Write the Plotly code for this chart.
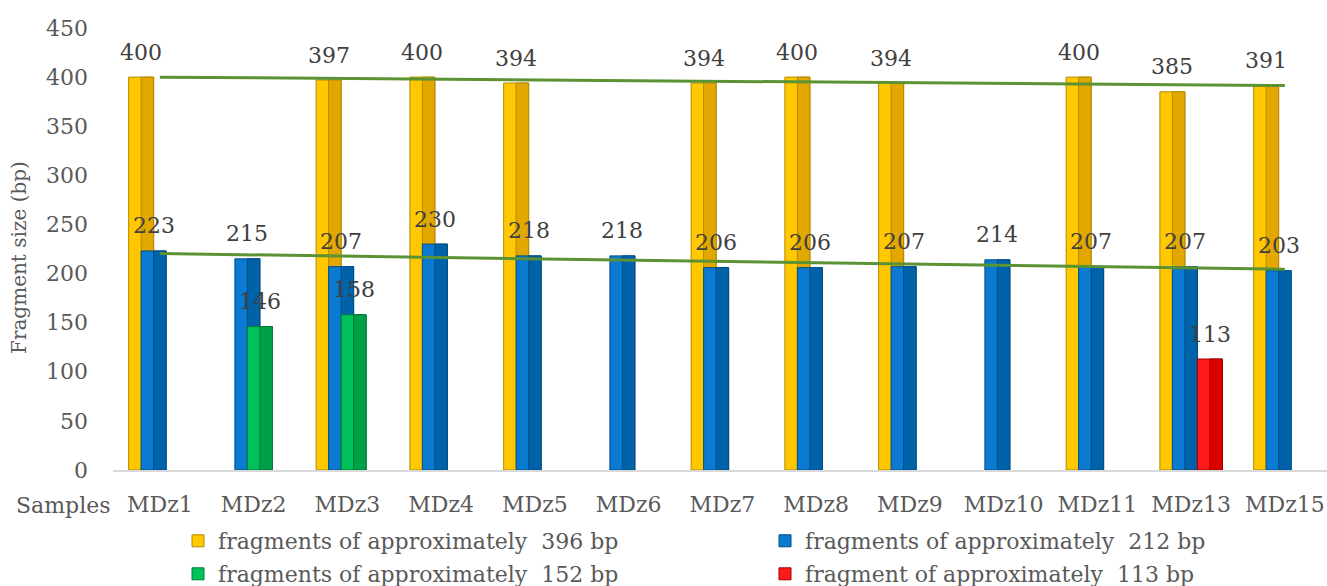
import numpy as np
import plotly.graph_objects as go

categories = ["MDz1", "MDz2", "MDz3", "MDz4", "MDz5", "MDz6", "MDz7",
              "MDz8", "MDz9", "MDz10", "MDz11", "MDz13", "MDz15"]
frag_396 = [400, None, 397, 400, 394, None, 394, 400, 394, None, 400, 385, 391]
frag_212 = [223, 215, 207, 230, 218, 218, 206, 206, 207, 214, 207, 207, 203]
frag_152 = [None, 146, 158, None, None, None, None, None, None, None, None, None, None]
frag_113 = [None, None, None, None, None, None, None, None, None, None, None, 113, None]
y_ticks = [0, 50, 100, 150, 200, 250, 300, 350, 400, 450]

names = ["fragments of approximately  396 bp",
         "fragments of approximately  212 bp",
         "fragments of approximately  152 bp",
         "fragment of approximately  113 bp"]

W, H = 1327, 586
L = 113
T = 28
B = H - 470
R = 0
pw = W - L - R
ph = H - T - B
cat_px = 93.75
bar_w = 25 / cat_px
step = 12.5 / cat_px
start = -31.25 / cat_px
strip_frac = 0.5


def px_x(sx):
    return (sx - L) / pw


def px_y(sy):
    return (H - B - sy) / ph


FONT = "DejaVu Serif"
TXT = "#404040"
AX = "#595959"
FS = 22

series = [
    (frag_396, "#FFC800", "#E3A800", "#B58900"),
    (frag_212, "#0A7BD0", "#0062A8", "#004E86"),
    (frag_152, "#00C25A", "#00A048", "#007A35"),
    (frag_113, "#FF1A1A", "#DD0000", "#A00000"),
]
legend_ids = ["legend", "legend2", "legend3", "legend4"]
legend_pos = [(178, 541), (765, 541), (178, 574), (765, 574)]

fig = go.Figure()
annotations = []
for i, (vals, light, dark, edge) in enumerate(series):
    off = start + i * step
    fig.add_trace(go.Bar(
        x=categories, y=vals, name=names[i],
        width=bar_w, offset=off,
        marker=dict(color=light, line=dict(color=edge, width=1)),
        legend=legend_ids[i],
    ))
    # darker right-hand half to imitate the bevelled bar
    fig.add_trace(go.Bar(
        x=categories, y=vals, name=names[i],
        width=bar_w * strip_frac, offset=off + bar_w * (1 - strip_frac),
        marker=dict(color=dark, line=dict(color=edge, width=1)),
        showlegend=False, hoverinfo="skip",
    ))
    # data labels above each bar
    for j, v in enumerate(vals):
        if v is None:
            continue
        annotations.append(dict(
            x=j + off + bar_w / 2, y=v, xref="x", yref="y",
            text=str(v), showarrow=False, xanchor="center", yanchor="middle",
            yshift=25, font=dict(family=FONT, size=FS, color=TXT),
        ))

# linear trendlines for the 396 bp and 212 bp series
idx = np.arange(len(categories))
for vals in (frag_396, frag_212):
    m = np.array([v is not None for v in vals])
    yv = np.array([v if v is not None else np.nan for v in vals], dtype=float)
    k, b0 = np.polyfit(idx[m], yv[m], 1)
    fig.add_trace(go.Scatter(
        x=categories, y=k * idx + b0, mode="lines",
        line=dict(color="#5B9234", width=3),
        showlegend=False, hoverinfo="skip", cliponaxis=False,
    ))

x_range = [-0.5, -0.5 + pw / cat_px]

legends = {}
for lid, (sx, sy) in zip(legend_ids, legend_pos):
    legends[lid] = dict(
        orientation="h", x=px_x(sx), xanchor="left",
        y=px_y(sy), yanchor="middle",
        font=dict(family=FONT, size=FS, color=AX),
        bgcolor="rgba(0,0,0,0)", itemwidth=30,
    )

annotations += [
    dict(text="Fragment size (bp)", textangle=-90, xref="paper", yref="paper",
         x=px_x(19), y=px_y(258), xanchor="center", yanchor="middle",
         showarrow=False, font=dict(family=FONT, size=20, color=AX)),
    dict(text="Samples", xref="paper", yref="paper",
         x=px_x(63), y=px_y(505), xanchor="center", yanchor="middle",
         showarrow=False, font=dict(family=FONT, size=FS, color=AX)),
]

fig.update_layout(
    width=W, height=H,
    margin=dict(l=L, r=R, t=T, b=B, autoexpand=False),
    paper_bgcolor="white", plot_bgcolor="white",
    barmode="overlay",
    font=dict(family=FONT, size=FS, color=AX),
    xaxis=dict(range=x_range, showgrid=False, ticks="", automargin=False,
               showline=True, linecolor="#D9D9D9", linewidth=2,
               tickfont=dict(family=FONT, size=FS, color=AX),
               ticklabelstandoff=14),
    yaxis=dict(range=[0, 450], tickvals=y_ticks, showgrid=False, ticks="",
               zeroline=False, showline=False, automargin=False,
               tickfont=dict(family=FONT, size=FS, color=AX),
               ticklabelstandoff=24),
    annotations=annotations,
    **legends,
)

fig.write_html(
    "out.html",
    config={"displayModeBar": False},
    post_script="document.body.style.margin='0';document.body.style.overflow='hidden';",
)
